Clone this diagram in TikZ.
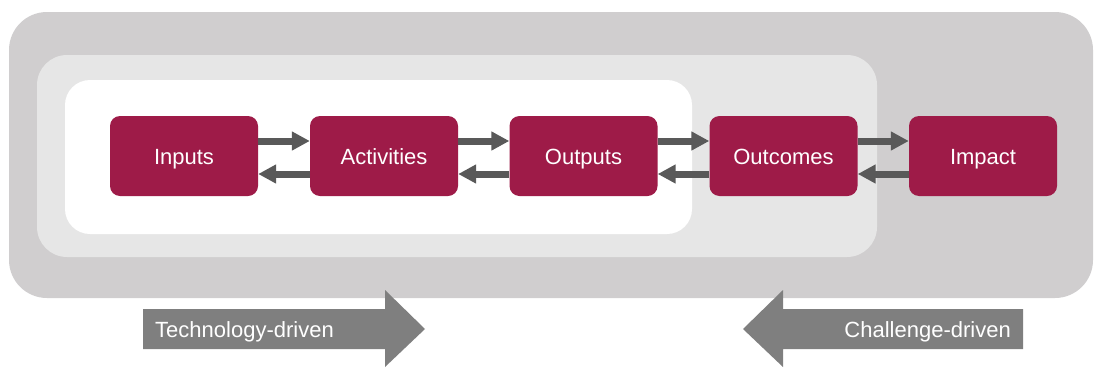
\documentclass[tikz,border=0pt]{standalone}
\usepackage{fontspec}
\setmainfont{Liberation Sans}
\usetikzlibrary{arrows.meta}
\definecolor{outerg}{HTML}{D0CECF}
\definecolor{midg}{HTML}{E6E6E6}
\definecolor{crim}{HTML}{9E1B48}
\definecolor{conn}{HTML}{595959}
\definecolor{bigarr}{HTML}{7F7F7F}
\tikzset{
  stage/.style={fill=crim, draw=none, rounded corners=10pt, minimum width=148pt, minimum height=80pt,
    text=white, font=\fontsize{22}{26}\selectfont, inner sep=0pt, text height=18pt, text depth=1.4pt},
  flow/.style={draw=conn, line width=7pt, -{Triangle[length=18pt,width=18pt]}},
  lbl/.style={text=white, font=\fontsize{22}{26}\selectfont, inner sep=0pt},
}
\begin{document}
\begin{tikzpicture}[x=1pt,y=-1pt]
\useasboundingbox (0,0) rectangle (1094,367);
\fill[outerg, rounded corners=38pt] (9,12) rectangle (1093,298);
\fill[midg, rounded corners=30pt] (37,55) rectangle (877,257);
\fill[white, rounded corners=25pt] (65,80) rectangle (692,234);

\node[stage] (in) at (184,156) {Inputs};
\node[stage] (act) at (384,156) {Activities};
\node[stage] (out) at (583.5,156) {Outputs};
\node[stage] (oc) at (783.5,156) {Outcomes};
\node[stage] (imp) at (983,156) {Impact};

\foreach \a/\b in {in/act, act/out, out/oc, oc/imp}{
  \draw[flow] ([yshift=15pt]\a.east) -- ([yshift=15pt]\b.west);
  \draw[flow] ([yshift=-18pt]\b.west) -- ([yshift=-18pt]\a.east);
}

\fill[bigarr] (143,309) -- (385,309) -- (385,290) -- (425,329) -- (385,367) -- (385,349) -- (143,349) -- cycle;
\node[lbl, anchor=base west] (tech) at (155,337.3) {Technology-driven};

\fill[bigarr] (1023,309) -- (783,309) -- (783,290) -- (743,329) -- (783,367) -- (783,349) -- (1023,349) -- cycle;
\node[lbl, anchor=base east] (chal) at (1011,337.3) {Challenge-driven};
\end{tikzpicture}
\end{document}
